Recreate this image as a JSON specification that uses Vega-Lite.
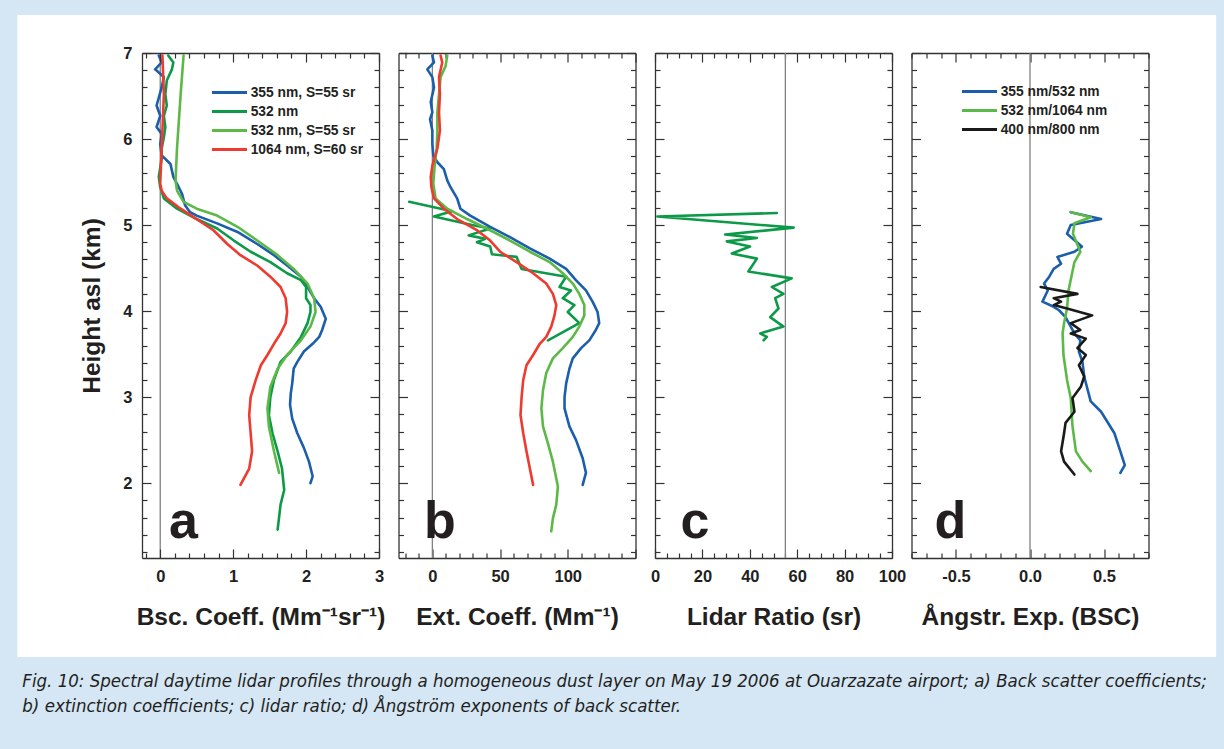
{
"$schema": "https://vega.github.io/schema/vega-lite/v6.json",
"background": "#d5e6f5",
"padding": {"left": 17, "top": 14, "right": 8, "bottom": 40},
"bounds": "flush",
"spacing": 19.5,
"title": {
  "text": ["Fig. 10: Spectral daytime lidar profiles through a homogeneous dust layer on May 19 2006 at Ouarzazate airport; a) Back scatter coefficients;", "b) extinction coefficients; c) lidar ratio; d) Ångström exponents of back scatter."],
  "orient": "bottom", "anchor": "start", "frame": "bounds", "offset": 15, "dx": 5,
  "font": "DejaVu Sans Condensed", "fontStyle": "italic", "fontWeight": "normal", "fontSize": 18.5, "lineHeight": 25, "color": "#231f20"
},
"datasets": {
  "bsc": [
    {"s":"355 nm, S=55 sr","v":-0.02,"h":6.97},{"s":"355 nm, S=55 sr","v":0.02,"h":6.89},{"s":"355 nm, S=55 sr","v":-0.07,"h":6.81},{"s":"355 nm, S=55 sr","v":0.05,"h":6.72},{"s":"355 nm, S=55 sr","v":0.02,"h":6.6},{"s":"355 nm, S=55 sr","v":-0.05,"h":6.39},{"s":"355 nm, S=55 sr","v":0.0,"h":6.27},{"s":"355 nm, S=55 sr","v":-0.05,"h":6.14},{"s":"355 nm, S=55 sr","v":0.02,"h":6.06},{"s":"355 nm, S=55 sr","v":0.0,"h":5.94},{"s":"355 nm, S=55 sr","v":0.02,"h":5.81},{"s":"355 nm, S=55 sr","v":0.14,"h":5.71},{"s":"355 nm, S=55 sr","v":0.18,"h":5.56},{"s":"355 nm, S=55 sr","v":0.23,"h":5.48},{"s":"355 nm, S=55 sr","v":0.3,"h":5.36},{"s":"355 nm, S=55 sr","v":0.34,"h":5.23},{"s":"355 nm, S=55 sr","v":0.41,"h":5.15},{"s":"355 nm, S=55 sr","v":0.5,"h":5.11},{"s":"355 nm, S=55 sr","v":0.78,"h":5.02},{"s":"355 nm, S=55 sr","v":1.06,"h":4.92},{"s":"355 nm, S=55 sr","v":1.33,"h":4.78},{"s":"355 nm, S=55 sr","v":1.56,"h":4.65},{"s":"355 nm, S=55 sr","v":1.74,"h":4.53},{"s":"355 nm, S=55 sr","v":1.93,"h":4.4},{"s":"355 nm, S=55 sr","v":2.02,"h":4.28},{"s":"355 nm, S=55 sr","v":2.11,"h":4.15},{"s":"355 nm, S=55 sr","v":2.2,"h":4.05},{"s":"355 nm, S=55 sr","v":2.27,"h":3.91},{"s":"355 nm, S=55 sr","v":2.22,"h":3.78},{"s":"355 nm, S=55 sr","v":2.18,"h":3.7},{"s":"355 nm, S=55 sr","v":2.09,"h":3.62},{"s":"355 nm, S=55 sr","v":1.97,"h":3.53},{"s":"355 nm, S=55 sr","v":1.88,"h":3.41},{"s":"355 nm, S=55 sr","v":1.83,"h":3.33},{"s":"355 nm, S=55 sr","v":1.81,"h":3.16},{"s":"355 nm, S=55 sr","v":1.79,"h":3.04},{"s":"355 nm, S=55 sr","v":1.78,"h":2.91},{"s":"355 nm, S=55 sr","v":1.81,"h":2.75},{"s":"355 nm, S=55 sr","v":1.88,"h":2.58},{"s":"355 nm, S=55 sr","v":1.97,"h":2.41},{"s":"355 nm, S=55 sr","v":2.04,"h":2.25},{"s":"355 nm, S=55 sr","v":2.09,"h":2.08},{"s":"355 nm, S=55 sr","v":2.06,"h":2.0},
    {"s":"532 nm","v":0.11,"h":6.97},{"s":"532 nm","v":0.18,"h":6.89},{"s":"532 nm","v":0.16,"h":6.81},{"s":"532 nm","v":0.09,"h":6.68},{"s":"532 nm","v":0.07,"h":6.52},{"s":"532 nm","v":0.09,"h":6.39},{"s":"532 nm","v":0.05,"h":6.27},{"s":"532 nm","v":0.07,"h":6.14},{"s":"532 nm","v":0.05,"h":6.02},{"s":"532 nm","v":0.02,"h":5.89},{"s":"532 nm","v":0.02,"h":5.77},{"s":"532 nm","v":-0.02,"h":5.56},{"s":"532 nm","v":0.0,"h":5.44},{"s":"532 nm","v":0.05,"h":5.31},{"s":"532 nm","v":0.23,"h":5.19},{"s":"532 nm","v":0.5,"h":5.07},{"s":"532 nm","v":0.78,"h":4.96},{"s":"532 nm","v":1.01,"h":4.82},{"s":"532 nm","v":1.24,"h":4.69},{"s":"532 nm","v":1.51,"h":4.57},{"s":"532 nm","v":1.74,"h":4.44},{"s":"532 nm","v":1.93,"h":4.36},{"s":"532 nm","v":2.0,"h":4.28},{"s":"532 nm","v":2.0,"h":4.15},{"s":"532 nm","v":2.06,"h":4.07},{"s":"532 nm","v":2.06,"h":3.99},{"s":"532 nm","v":2.02,"h":3.86},{"s":"532 nm","v":1.93,"h":3.7},{"s":"532 nm","v":1.79,"h":3.53},{"s":"532 nm","v":1.65,"h":3.41},{"s":"532 nm","v":1.56,"h":3.2},{"s":"532 nm","v":1.51,"h":3.0},{"s":"532 nm","v":1.49,"h":2.79},{"s":"532 nm","v":1.54,"h":2.58},{"s":"532 nm","v":1.61,"h":2.37},{"s":"532 nm","v":1.67,"h":2.17},{"s":"532 nm","v":1.7,"h":1.92},{"s":"532 nm","v":1.65,"h":1.75},{"s":"532 nm","v":1.61,"h":1.46},
    {"s":"532 nm, S=55 sr","v":0.32,"h":6.97},{"s":"532 nm, S=55 sr","v":0.28,"h":6.52},{"s":"532 nm, S=55 sr","v":0.23,"h":5.89},{"s":"532 nm, S=55 sr","v":0.21,"h":5.52},{"s":"532 nm, S=55 sr","v":0.23,"h":5.4},{"s":"532 nm, S=55 sr","v":0.32,"h":5.27},{"s":"532 nm, S=55 sr","v":0.5,"h":5.19},{"s":"532 nm, S=55 sr","v":0.78,"h":5.11},{"s":"532 nm, S=55 sr","v":1.06,"h":4.98},{"s":"532 nm, S=55 sr","v":1.33,"h":4.82},{"s":"532 nm, S=55 sr","v":1.61,"h":4.65},{"s":"532 nm, S=55 sr","v":1.83,"h":4.49},{"s":"532 nm, S=55 sr","v":2.02,"h":4.32},{"s":"532 nm, S=55 sr","v":2.11,"h":4.15},{"s":"532 nm, S=55 sr","v":2.13,"h":3.99},{"s":"532 nm, S=55 sr","v":2.06,"h":3.82},{"s":"532 nm, S=55 sr","v":1.93,"h":3.66},{"s":"532 nm, S=55 sr","v":1.74,"h":3.49},{"s":"532 nm, S=55 sr","v":1.61,"h":3.33},{"s":"532 nm, S=55 sr","v":1.51,"h":3.12},{"s":"532 nm, S=55 sr","v":1.47,"h":2.87},{"s":"532 nm, S=55 sr","v":1.49,"h":2.66},{"s":"532 nm, S=55 sr","v":1.56,"h":2.37},{"s":"532 nm, S=55 sr","v":1.63,"h":2.12},
    {"s":"1064 nm, S=60 sr","v":0.03,"h":6.97},{"s":"1064 nm, S=60 sr","v":0.05,"h":6.52},{"s":"1064 nm, S=60 sr","v":0.02,"h":5.89},{"s":"1064 nm, S=60 sr","v":0.0,"h":5.48},{"s":"1064 nm, S=60 sr","v":0.02,"h":5.4},{"s":"1064 nm, S=60 sr","v":0.09,"h":5.31},{"s":"1064 nm, S=60 sr","v":0.28,"h":5.19},{"s":"1064 nm, S=60 sr","v":0.5,"h":5.07},{"s":"1064 nm, S=60 sr","v":0.73,"h":4.94},{"s":"1064 nm, S=60 sr","v":0.92,"h":4.78},{"s":"1064 nm, S=60 sr","v":1.1,"h":4.65},{"s":"1064 nm, S=60 sr","v":1.33,"h":4.53},{"s":"1064 nm, S=60 sr","v":1.51,"h":4.4},{"s":"1064 nm, S=60 sr","v":1.65,"h":4.28},{"s":"1064 nm, S=60 sr","v":1.72,"h":4.15},{"s":"1064 nm, S=60 sr","v":1.74,"h":3.99},{"s":"1064 nm, S=60 sr","v":1.72,"h":3.86},{"s":"1064 nm, S=60 sr","v":1.65,"h":3.74},{"s":"1064 nm, S=60 sr","v":1.56,"h":3.62},{"s":"1064 nm, S=60 sr","v":1.47,"h":3.49},{"s":"1064 nm, S=60 sr","v":1.38,"h":3.37},{"s":"1064 nm, S=60 sr","v":1.31,"h":3.2},{"s":"1064 nm, S=60 sr","v":1.24,"h":3.0},{"s":"1064 nm, S=60 sr","v":1.22,"h":2.79},{"s":"1064 nm, S=60 sr","v":1.24,"h":2.58},{"s":"1064 nm, S=60 sr","v":1.26,"h":2.37},{"s":"1064 nm, S=60 sr","v":1.22,"h":2.17},{"s":"1064 nm, S=60 sr","v":1.1,"h":1.98}
  ],
  "ext": [
    {"s":"355 nm, S=55 sr","v":0,"h":6.97},{"s":"355 nm, S=55 sr","v":1.2,"h":6.89},{"s":"355 nm, S=55 sr","v":-3.7,"h":6.81},{"s":"355 nm, S=55 sr","v":0,"h":6.72},{"s":"355 nm, S=55 sr","v":1.2,"h":6.6},{"s":"355 nm, S=55 sr","v":-1.2,"h":6.43},{"s":"355 nm, S=55 sr","v":0,"h":6.31},{"s":"355 nm, S=55 sr","v":-1.7,"h":6.23},{"s":"355 nm, S=55 sr","v":0,"h":6.1},{"s":"355 nm, S=55 sr","v":0,"h":5.94},{"s":"355 nm, S=55 sr","v":0.7,"h":5.81},{"s":"355 nm, S=55 sr","v":3.7,"h":5.73},{"s":"355 nm, S=55 sr","v":8.5,"h":5.65},{"s":"355 nm, S=55 sr","v":11,"h":5.52},{"s":"355 nm, S=55 sr","v":13.4,"h":5.44},{"s":"355 nm, S=55 sr","v":18.3,"h":5.31},{"s":"355 nm, S=55 sr","v":20.7,"h":5.19},{"s":"355 nm, S=55 sr","v":28,"h":5.11},{"s":"355 nm, S=55 sr","v":42.7,"h":4.98},{"s":"355 nm, S=55 sr","v":57.3,"h":4.86},{"s":"355 nm, S=55 sr","v":72,"h":4.73},{"s":"355 nm, S=55 sr","v":86.6,"h":4.61},{"s":"355 nm, S=55 sr","v":98.8,"h":4.49},{"s":"355 nm, S=55 sr","v":106,"h":4.36},{"s":"355 nm, S=55 sr","v":113.4,"h":4.24},{"s":"355 nm, S=55 sr","v":118.3,"h":4.11},{"s":"355 nm, S=55 sr","v":122,"h":3.99},{"s":"355 nm, S=55 sr","v":123.2,"h":3.86},{"s":"355 nm, S=55 sr","v":120.7,"h":3.78},{"s":"355 nm, S=55 sr","v":115.9,"h":3.66},{"s":"355 nm, S=55 sr","v":109.8,"h":3.57},{"s":"355 nm, S=55 sr","v":103.7,"h":3.45},{"s":"355 nm, S=55 sr","v":101.2,"h":3.33},{"s":"355 nm, S=55 sr","v":98.8,"h":3.16},{"s":"355 nm, S=55 sr","v":97.6,"h":3.0},{"s":"355 nm, S=55 sr","v":97.6,"h":2.87},{"s":"355 nm, S=55 sr","v":101.2,"h":2.66},{"s":"355 nm, S=55 sr","v":106.1,"h":2.5},{"s":"355 nm, S=55 sr","v":111,"h":2.29},{"s":"355 nm, S=55 sr","v":113.4,"h":2.12},{"s":"355 nm, S=55 sr","v":111,"h":1.98},
    {"s":"532 nm","v":-17.1,"h":5.27},{"s":"532 nm","v":14.6,"h":5.16},{"s":"532 nm","v":1.2,"h":5.1},{"s":"532 nm","v":29.3,"h":5.0},{"s":"532 nm","v":42.7,"h":4.96},{"s":"532 nm","v":26.8,"h":4.88},{"s":"532 nm","v":39,"h":4.84},{"s":"532 nm","v":32.9,"h":4.8},{"s":"532 nm","v":42.7,"h":4.75},{"s":"532 nm","v":44,"h":4.66},{"s":"532 nm","v":62.2,"h":4.63},{"s":"532 nm","v":65.9,"h":4.49},{"s":"532 nm","v":98.8,"h":4.4},{"s":"532 nm","v":93.9,"h":4.28},{"s":"532 nm","v":102.4,"h":4.24},{"s":"532 nm","v":96.3,"h":4.15},{"s":"532 nm","v":104.9,"h":4.07},{"s":"532 nm","v":100,"h":3.99},{"s":"532 nm","v":108.5,"h":3.86},{"s":"532 nm","v":85.4,"h":3.66},
    {"s":"532 nm, S=55 sr","v":11,"h":6.97},{"s":"532 nm, S=55 sr","v":9.8,"h":6.85},{"s":"532 nm, S=55 sr","v":6.1,"h":6.72},{"s":"532 nm, S=55 sr","v":4.9,"h":6.52},{"s":"532 nm, S=55 sr","v":3.7,"h":6.31},{"s":"532 nm, S=55 sr","v":3.7,"h":6.1},{"s":"532 nm, S=55 sr","v":3.2,"h":5.89},{"s":"532 nm, S=55 sr","v":1.7,"h":5.69},{"s":"532 nm, S=55 sr","v":0.7,"h":5.48},{"s":"532 nm, S=55 sr","v":2.4,"h":5.31},{"s":"532 nm, S=55 sr","v":11,"h":5.19},{"s":"532 nm, S=55 sr","v":25.6,"h":5.07},{"s":"532 nm, S=55 sr","v":42.7,"h":4.94},{"s":"532 nm, S=55 sr","v":57.3,"h":4.82},{"s":"532 nm, S=55 sr","v":72,"h":4.69},{"s":"532 nm, S=55 sr","v":86.6,"h":4.57},{"s":"532 nm, S=55 sr","v":96.3,"h":4.44},{"s":"532 nm, S=55 sr","v":103.7,"h":4.32},{"s":"532 nm, S=55 sr","v":108.5,"h":4.2},{"s":"532 nm, S=55 sr","v":112.2,"h":4.07},{"s":"532 nm, S=55 sr","v":112.2,"h":3.95},{"s":"532 nm, S=55 sr","v":108.5,"h":3.82},{"s":"532 nm, S=55 sr","v":103.7,"h":3.7},{"s":"532 nm, S=55 sr","v":96.3,"h":3.57},{"s":"532 nm, S=55 sr","v":89,"h":3.45},{"s":"532 nm, S=55 sr","v":84.1,"h":3.28},{"s":"532 nm, S=55 sr","v":81.7,"h":3.08},{"s":"532 nm, S=55 sr","v":80.5,"h":2.87},{"s":"532 nm, S=55 sr","v":81.7,"h":2.66},{"s":"532 nm, S=55 sr","v":85.4,"h":2.46},{"s":"532 nm, S=55 sr","v":89,"h":2.25},{"s":"532 nm, S=55 sr","v":92.7,"h":1.96},{"s":"532 nm, S=55 sr","v":91.5,"h":1.75},{"s":"532 nm, S=55 sr","v":89,"h":1.59},{"s":"532 nm, S=55 sr","v":87.8,"h":1.44},
    {"s":"1064 nm, S=60 sr","v":6.1,"h":6.97},{"s":"1064 nm, S=60 sr","v":7.3,"h":6.89},{"s":"1064 nm, S=60 sr","v":4.9,"h":6.72},{"s":"1064 nm, S=60 sr","v":5.6,"h":6.52},{"s":"1064 nm, S=60 sr","v":4.9,"h":6.31},{"s":"1064 nm, S=60 sr","v":5.6,"h":6.1},{"s":"1064 nm, S=60 sr","v":3.7,"h":5.89},{"s":"1064 nm, S=60 sr","v":0,"h":5.69},{"s":"1064 nm, S=60 sr","v":-1.2,"h":5.56},{"s":"1064 nm, S=60 sr","v":-0.7,"h":5.44},{"s":"1064 nm, S=60 sr","v":1.2,"h":5.31},{"s":"1064 nm, S=60 sr","v":8.5,"h":5.19},{"s":"1064 nm, S=60 sr","v":18.3,"h":5.07},{"s":"1064 nm, S=60 sr","v":32.9,"h":4.94},{"s":"1064 nm, S=60 sr","v":42.7,"h":4.82},{"s":"1064 nm, S=60 sr","v":50,"h":4.69},{"s":"1064 nm, S=60 sr","v":62.2,"h":4.57},{"s":"1064 nm, S=60 sr","v":74.4,"h":4.44},{"s":"1064 nm, S=60 sr","v":84.1,"h":4.32},{"s":"1064 nm, S=60 sr","v":89,"h":4.2},{"s":"1064 nm, S=60 sr","v":91.5,"h":4.07},{"s":"1064 nm, S=60 sr","v":90.2,"h":3.95},{"s":"1064 nm, S=60 sr","v":87.8,"h":3.82},{"s":"1064 nm, S=60 sr","v":84.1,"h":3.7},{"s":"1064 nm, S=60 sr","v":79.3,"h":3.62},{"s":"1064 nm, S=60 sr","v":74.4,"h":3.49},{"s":"1064 nm, S=60 sr","v":69.5,"h":3.37},{"s":"1064 nm, S=60 sr","v":67.1,"h":3.2},{"s":"1064 nm, S=60 sr","v":65.9,"h":3.0},{"s":"1064 nm, S=60 sr","v":65.1,"h":2.79},{"s":"1064 nm, S=60 sr","v":67.1,"h":2.58},{"s":"1064 nm, S=60 sr","v":69.5,"h":2.37},{"s":"1064 nm, S=60 sr","v":72,"h":2.17},{"s":"1064 nm, S=60 sr","v":74.4,"h":1.98}
  ],
  "lr": [
    {"v":51.4,"h":5.14},{"v":1.0,"h":5.1},{"v":58.5,"h":4.97},{"v":29.6,"h":4.89},{"v":43,"h":4.85},{"v":30.3,"h":4.81},{"v":40.1,"h":4.75},{"v":32.4,"h":4.67},{"v":43,"h":4.61},{"v":39.4,"h":4.46},{"v":57.7,"h":4.38},{"v":49.3,"h":4.28},{"v":54.2,"h":4.2},{"v":50.7,"h":4.15},{"v":52.1,"h":4.03},{"v":48.6,"h":3.93},{"v":54.2,"h":3.82},{"v":44.4,"h":3.74},{"v":47.2,"h":3.7},{"v":45.8,"h":3.66}
  ],
  "ang": [
    {"s":"355 nm/532 nm","v":0.275,"h":5.15},{"s":"355 nm/532 nm","v":0.48,"h":5.07},{"s":"355 nm/532 nm","v":0.275,"h":5.0},{"s":"355 nm/532 nm","v":0.25,"h":4.9},{"s":"355 nm/532 nm","v":0.35,"h":4.75},{"s":"355 nm/532 nm","v":0.3,"h":4.69},{"s":"355 nm/532 nm","v":0.185,"h":4.63},{"s":"355 nm/532 nm","v":0.21,"h":4.55},{"s":"355 nm/532 nm","v":0.16,"h":4.49},{"s":"355 nm/532 nm","v":0.13,"h":4.4},{"s":"355 nm/532 nm","v":0.095,"h":4.32},{"s":"355 nm/532 nm","v":0.12,"h":4.24},{"s":"355 nm/532 nm","v":0.084,"h":4.11},{"s":"355 nm/532 nm","v":0.16,"h":4.05},{"s":"355 nm/532 nm","v":0.196,"h":4.01},{"s":"355 nm/532 nm","v":0.24,"h":3.93},{"s":"355 nm/532 nm","v":0.275,"h":3.82},{"s":"355 nm/532 nm","v":0.3,"h":3.74},{"s":"355 nm/532 nm","v":0.34,"h":3.66},{"s":"355 nm/532 nm","v":0.33,"h":3.53},{"s":"355 nm/532 nm","v":0.354,"h":3.41},{"s":"355 nm/532 nm","v":0.366,"h":3.24},{"s":"355 nm/532 nm","v":0.39,"h":3.08},{"s":"355 nm/532 nm","v":0.41,"h":2.95},{"s":"355 nm/532 nm","v":0.48,"h":2.83},{"s":"355 nm/532 nm","v":0.57,"h":2.58},{"s":"355 nm/532 nm","v":0.61,"h":2.37},{"s":"355 nm/532 nm","v":0.64,"h":2.21},{"s":"355 nm/532 nm","v":0.61,"h":2.12},
    {"s":"532 nm/1064 nm","v":0.275,"h":5.15},{"s":"532 nm/1064 nm","v":0.41,"h":5.09},{"s":"532 nm/1064 nm","v":0.3,"h":5.02},{"s":"532 nm/1064 nm","v":0.29,"h":4.9},{"s":"532 nm/1064 nm","v":0.34,"h":4.69},{"s":"532 nm/1064 nm","v":0.3,"h":4.57},{"s":"532 nm/1064 nm","v":0.26,"h":4.24},{"s":"532 nm/1064 nm","v":0.25,"h":4.03},{"s":"532 nm/1064 nm","v":0.23,"h":3.86},{"s":"532 nm/1064 nm","v":0.22,"h":3.74},{"s":"532 nm/1064 nm","v":0.226,"h":3.49},{"s":"532 nm/1064 nm","v":0.25,"h":3.2},{"s":"532 nm/1064 nm","v":0.275,"h":2.99},{"s":"532 nm/1064 nm","v":0.287,"h":2.66},{"s":"532 nm/1064 nm","v":0.31,"h":2.37},{"s":"532 nm/1064 nm","v":0.354,"h":2.25},{"s":"532 nm/1064 nm","v":0.41,"h":2.14},
    {"s":"400 nm/800 nm","v":0.072,"h":4.28},{"s":"400 nm/800 nm","v":0.32,"h":4.2},{"s":"400 nm/800 nm","v":0.16,"h":4.15},{"s":"400 nm/800 nm","v":0.21,"h":4.11},{"s":"400 nm/800 nm","v":0.16,"h":4.07},{"s":"400 nm/800 nm","v":0.25,"h":4.03},{"s":"400 nm/800 nm","v":0.42,"h":3.95},{"s":"400 nm/800 nm","v":0.275,"h":3.86},{"s":"400 nm/800 nm","v":0.34,"h":3.78},{"s":"400 nm/800 nm","v":0.275,"h":3.74},{"s":"400 nm/800 nm","v":0.377,"h":3.68},{"s":"400 nm/800 nm","v":0.32,"h":3.57},{"s":"400 nm/800 nm","v":0.377,"h":3.49},{"s":"400 nm/800 nm","v":0.33,"h":3.37},{"s":"400 nm/800 nm","v":0.366,"h":3.24},{"s":"400 nm/800 nm","v":0.343,"h":3.12},{"s":"400 nm/800 nm","v":0.287,"h":2.99},{"s":"400 nm/800 nm","v":0.3,"h":2.83},{"s":"400 nm/800 nm","v":0.24,"h":2.7},{"s":"400 nm/800 nm","v":0.23,"h":2.58},{"s":"400 nm/800 nm","v":0.21,"h":2.37},{"s":"400 nm/800 nm","v":0.23,"h":2.25},{"s":"400 nm/800 nm","v":0.3,"h":2.1}
  ]
},
"hconcat": [
  {
    "width": 237, "height": 505,
    "layer": [
      {
        "data": {"values": [{}]},
        "mark": {"type": "rect", "fill": "#ffffff", "zindex": 0},
        "encoding": {
          "x": {"datum": -1.96, "type": "quantitative", "scale": {"domain": [-0.25, 3], "nice": false, "zero": false}, "axis": null},
          "x2": {"datum": 14.48},
          "y": {"datum": 7.442, "type": "quantitative", "scale": {"domain": [1.13, 7.0], "nice": false, "zero": false}, "axis": null},
          "y2": {"datum": -0.021}
        }
      },
      {
        "data": {"values": [{}]},
        "mark": {"type": "rule", "color": "#808080", "strokeWidth": 1.3, "zindex": 1},
        "encoding": {
          "x": {"datum": 0, "type": "quantitative", "scale": {"domain": [-0.25, 3], "nice": false, "zero": false},
                "axis": {"orient": "top", "zindex": 2, "values": [-0.2,0,0.2,0.4,0.6,0.8,1,1.2,1.4,1.6,1.8,2,2.2,2.4,2.6,2.8,3], "labels": false, "title": null,
                         "tickSize": {"condition": {"test": "datum.value % 1 === 0", "value": -9}, "value": -5}}}
        }
      },
      {
        "data": {"name": "bsc"},
        "mark": {"type": "line", "strokeWidth": 2.6, "strokeJoin": "round", "strokeCap": "round", "zindex": 1},
        "encoding": {
          "x": {"field": "v", "type": "quantitative", "scale": {"domain": [-0.25, 3], "nice": false, "zero": false},
                "axis": {"orient": "bottom", "zindex": 2, "values": [-0.2,0,0.2,0.4,0.6,0.8,1,1.2,1.4,1.6,1.8,2,2.2,2.4,2.6,2.8,3],
                         "labelExpr": "datum.value % 1 === 0 ? '' + datum.value : ''", "title": "Bsc. Coeff. (Mm⁻¹sr⁻¹)",
                         "tickSize": {"condition": {"test": "datum.value % 1 === 0", "value": -9}, "value": -5}}},
          "y": {"field": "h", "type": "quantitative", "scale": {"domain": [1.13, 7.0], "nice": false, "zero": false},
                "axis": {"orient": "left", "zindex": 2, "values": [1.2,1.4,1.6,1.8,2,2.2,2.4,2.6,2.8,3,3.2,3.4,3.6,3.8,4,4.2,4.4,4.6,4.8,5,5.2,5.4,5.6,5.8,6,6.2,6.4,6.6,6.8,7],
                         "labelExpr": "datum.value % 1 === 0 ? '' + datum.value : ''", "title": "Height asl (km)", "labelPadding": 19, "titlePadding": 18,
                         "tickSize": {"condition": {"test": "datum.value % 1 === 0", "value": -9}, "value": -5}}},
          "color": {"field": "s", "type": "nominal",
                    "scale": {"domain": ["355 nm, S=55 sr", "532 nm", "532 nm, S=55 sr", "1064 nm, S=60 sr"], "range": ["#1b5eab", "#0d9a48", "#5cb947", "#ee3a2f"]},
                    "legend": {"orient": "none", "legendX": 80, "legendY": 32, "zindex": 2}},
          "order": {"value": null}
        }
      },
      {
        "data": {"values": [{"t": "a"}]},
        "mark": {"type": "text", "font": "Liberation Sans", "fontWeight": "bold", "fontSize": 52, "align": "center", "baseline": "alphabetic", "color": "#231f20", "zindex": 1},
        "encoding": {
          "text": {"field": "t"},
          "x": {"datum": 0.32, "type": "quantitative", "scale": {"domain": [-0.25, 3], "nice": false, "zero": false}, "axis": null},
          "y": {"datum": 1.36, "type": "quantitative", "scale": {"domain": [1.13, 7.0], "nice": false, "zero": false},
                "axis": {"orient": "right", "zindex": 2, "values": [1.2,1.4,1.6,1.8,2,2.2,2.4,2.6,2.8,3,3.2,3.4,3.6,3.8,4,4.2,4.4,4.6,4.8,5,5.2,5.4,5.6,5.8,6,6.2,6.4,6.6,6.8,7], "labels": false, "title": null,
                         "tickSize": {"condition": {"test": "datum.value % 1 === 0", "value": -9}, "value": -5}}}
        }
      }
    ],
    "resolve": {"axis": {"x": "independent", "y": "independent"}}
  },
  {
    "width": 237, "height": 505,
    "layer": [
      {
        "data": {"values": [{}]},
        "mark": {"type": "rule", "color": "#808080", "strokeWidth": 1.3},
        "encoding": {
          "x": {"datum": 0, "type": "quantitative", "scale": {"domain": [-25, 150], "nice": false, "zero": false},
                "axis": {"orient": "top", "values": [-20,-10,0,10,20,30,40,50,60,70,80,90,100,110,120,130,140,150], "labels": false, "title": null,
                         "tickSize": {"condition": {"test": "datum.value % 50 === 0", "value": -9}, "value": -5}}}
        }
      },
      {
        "data": {"name": "ext"},
        "mark": {"type": "line", "strokeWidth": 2.6, "strokeJoin": "round", "strokeCap": "round"},
        "encoding": {
          "x": {"field": "v", "type": "quantitative", "scale": {"domain": [-25, 150], "nice": false, "zero": false},
                "axis": {"orient": "bottom", "values": [-20,-10,0,10,20,30,40,50,60,70,80,90,100,110,120,130,140,150],
                         "labelExpr": "datum.value === 0 || datum.value === 50 || datum.value === 100 ? '' + datum.value : ''", "title": "Ext. Coeff. (Mm⁻¹)",
                         "tickSize": {"condition": {"test": "datum.value % 50 === 0", "value": -9}, "value": -5}}},
          "y": {"field": "h", "type": "quantitative", "scale": {"domain": [1.13, 7.0], "nice": false, "zero": false},
                "axis": {"orient": "left", "values": [1.2,1.4,1.6,1.8,2,2.2,2.4,2.6,2.8,3,3.2,3.4,3.6,3.8,4,4.2,4.4,4.6,4.8,5,5.2,5.4,5.6,5.8,6,6.2,6.4,6.6,6.8,7], "labels": false, "title": null,
                         "tickSize": {"condition": {"test": "datum.value % 1 === 0", "value": -9}, "value": -5}}},
          "color": {"field": "s", "type": "nominal",
                    "scale": {"domain": ["355 nm, S=55 sr", "532 nm", "532 nm, S=55 sr", "1064 nm, S=60 sr"], "range": ["#1b5eab", "#0d9a48", "#5cb947", "#ee3a2f"]},
                    "legend": null},
          "order": {"value": null}
        }
      },
      {
        "data": {"values": [{"t": "b"}]},
        "mark": {"type": "text", "font": "Liberation Sans", "fontWeight": "bold", "fontSize": 52, "align": "center", "baseline": "alphabetic", "color": "#231f20"},
        "encoding": {
          "text": {"field": "t"},
          "x": {"datum": 5.6, "type": "quantitative", "scale": {"domain": [-25, 150], "nice": false, "zero": false}, "axis": null},
          "y": {"datum": 1.36, "type": "quantitative", "scale": {"domain": [1.13, 7.0], "nice": false, "zero": false},
                "axis": {"orient": "right", "values": [1.2,1.4,1.6,1.8,2,2.2,2.4,2.6,2.8,3,3.2,3.4,3.6,3.8,4,4.2,4.4,4.6,4.8,5,5.2,5.4,5.6,5.8,6,6.2,6.4,6.6,6.8,7], "labels": false, "title": null,
                         "tickSize": {"condition": {"test": "datum.value % 1 === 0", "value": -9}, "value": -5}}}
        }
      }
    ],
    "resolve": {"axis": {"x": "independent", "y": "independent"}}
  },
  {
    "width": 237, "height": 505,
    "layer": [
      {
        "data": {"values": [{}]},
        "mark": {"type": "rule", "color": "#808080", "strokeWidth": 1.3},
        "encoding": {
          "x": {"datum": 55, "type": "quantitative", "scale": {"domain": [0, 100], "nice": false, "zero": false},
                "axis": {"orient": "top", "values": [0,5,10,15,20,25,30,35,40,45,50,55,60,65,70,75,80,85,90,95,100], "labels": false, "title": null,
                         "tickSize": {"condition": {"test": "datum.value % 20 === 0", "value": -9}, "value": -5}}}
        }
      },
      {
        "data": {"name": "lr"},
        "mark": {"type": "line", "strokeWidth": 2.6, "strokeJoin": "round", "strokeCap": "round", "color": "#0d9a48"},
        "encoding": {
          "x": {"field": "v", "type": "quantitative", "scale": {"domain": [0, 100], "nice": false, "zero": false},
                "axis": {"orient": "bottom", "values": [0,5,10,15,20,25,30,35,40,45,50,55,60,65,70,75,80,85,90,95,100],
                         "labelExpr": "datum.value % 20 === 0 ? '' + datum.value : ''", "title": "Lidar Ratio (sr)",
                         "tickSize": {"condition": {"test": "datum.value % 20 === 0", "value": -9}, "value": -5}}},
          "y": {"field": "h", "type": "quantitative", "scale": {"domain": [1.13, 7.0], "nice": false, "zero": false},
                "axis": {"orient": "left", "values": [1.2,1.4,1.6,1.8,2,2.2,2.4,2.6,2.8,3,3.2,3.4,3.6,3.8,4,4.2,4.4,4.6,4.8,5,5.2,5.4,5.6,5.8,6,6.2,6.4,6.6,6.8,7], "labels": false, "title": null,
                         "tickSize": {"condition": {"test": "datum.value % 1 === 0", "value": -9}, "value": -5}}},
          "order": {"value": null}
        }
      },
      {
        "data": {"values": [{"t": "c"}]},
        "mark": {"type": "text", "font": "Liberation Sans", "fontWeight": "bold", "fontSize": 52, "align": "center", "baseline": "alphabetic", "color": "#231f20"},
        "encoding": {
          "text": {"field": "t"},
          "x": {"datum": 16.9, "type": "quantitative", "scale": {"domain": [0, 100], "nice": false, "zero": false}, "axis": null},
          "y": {"datum": 1.36, "type": "quantitative", "scale": {"domain": [1.13, 7.0], "nice": false, "zero": false},
                "axis": {"orient": "right", "values": [1.2,1.4,1.6,1.8,2,2.2,2.4,2.6,2.8,3,3.2,3.4,3.6,3.8,4,4.2,4.4,4.6,4.8,5,5.2,5.4,5.6,5.8,6,6.2,6.4,6.6,6.8,7], "labels": false, "title": null,
                         "tickSize": {"condition": {"test": "datum.value % 1 === 0", "value": -9}, "value": -5}}}
        }
      }
    ],
    "resolve": {"axis": {"x": "independent", "y": "independent"}}
  },
  {
    "width": 237, "height": 505,
    "layer": [
      {
        "data": {"values": [{}]},
        "mark": {"type": "rule", "color": "#808080", "strokeWidth": 1.3},
        "encoding": {
          "x": {"datum": 0, "type": "quantitative", "scale": {"domain": [-0.8, 0.8], "nice": false, "zero": false},
                "axis": {"orient": "top", "values": [-0.8,-0.7,-0.6,-0.5,-0.4,-0.3,-0.2,-0.1,0,0.1,0.2,0.3,0.4,0.5,0.6,0.7,0.8], "labels": false, "title": null,
                         "tickSize": {"condition": {"test": "abs(datum.value * 10) % 5 === 0", "value": -9}, "value": -5}}}
        }
      },
      {
        "data": {"name": "ang"},
        "mark": {"type": "line", "strokeWidth": 2.6, "strokeJoin": "round", "strokeCap": "round"},
        "encoding": {
          "x": {"field": "v", "type": "quantitative", "scale": {"domain": [-0.8, 0.8], "nice": false, "zero": false},
                "axis": {"orient": "bottom", "values": [-0.8,-0.7,-0.6,-0.5,-0.4,-0.3,-0.2,-0.1,0,0.1,0.2,0.3,0.4,0.5,0.6,0.7,0.8],
                         "labelExpr": "datum.value === -0.5 ? '-0.5' : datum.value === 0 ? '0.0' : datum.value === 0.5 ? '0.5' : ''", "title": "Ångstr. Exp. (BSC)",
                         "tickSize": {"condition": {"test": "abs(datum.value * 10) % 5 === 0", "value": -9}, "value": -5}}},
          "y": {"field": "h", "type": "quantitative", "scale": {"domain": [1.13, 7.0], "nice": false, "zero": false},
                "axis": {"orient": "left", "values": [1.2,1.4,1.6,1.8,2,2.2,2.4,2.6,2.8,3,3.2,3.4,3.6,3.8,4,4.2,4.4,4.6,4.8,5,5.2,5.4,5.6,5.8,6,6.2,6.4,6.6,6.8,7], "labels": false, "title": null,
                         "tickSize": {"condition": {"test": "datum.value % 1 === 0", "value": -9}, "value": -5}}},
          "color": {"field": "s", "type": "nominal",
                    "scale": {"domain": ["355 nm/532 nm", "532 nm/1064 nm", "400 nm/800 nm"], "range": ["#1b5eab", "#5cb947", "#1a1a1a"]},
                    "legend": {"orient": "none", "legendX": 60.5, "legendY": 31, "zindex": 2}},
          "order": {"value": null}
        }
      },
      {
        "data": {"values": [{"t": "d"}]},
        "mark": {"type": "text", "font": "Liberation Sans", "fontWeight": "bold", "fontSize": 52, "align": "center", "baseline": "alphabetic", "color": "#231f20"},
        "encoding": {
          "text": {"field": "t"},
          "x": {"datum": -0.537, "type": "quantitative", "scale": {"domain": [-0.8, 0.8], "nice": false, "zero": false}, "axis": null},
          "y": {"datum": 1.36, "type": "quantitative", "scale": {"domain": [1.13, 7.0], "nice": false, "zero": false},
                "axis": {"orient": "right", "values": [1.2,1.4,1.6,1.8,2,2.2,2.4,2.6,2.8,3,3.2,3.4,3.6,3.8,4,4.2,4.4,4.6,4.8,5,5.2,5.4,5.6,5.8,6,6.2,6.4,6.6,6.8,7], "labels": false, "title": null,
                         "tickSize": {"condition": {"test": "datum.value % 1 === 0", "value": -9}, "value": -5}}}
        }
      }
    ],
    "resolve": {"axis": {"x": "independent", "y": "independent"}}
  }
],
"resolve": {"scale": {"color": "independent"}, "legend": {"color": "independent"}},
"config": {
  "view": {"stroke": null},
  "axis": {
    "zindex": 1, "grid": false,
    "domainColor": "#333333", "domainWidth": 1.3,
    "tickColor": "#333333", "tickWidth": 1.2,
    "labelFont": "Liberation Sans", "labelFontWeight": "bold", "labelFontSize": 16.5, "labelColor": "#231f20",
    "labelPadding": 19, "labelFlush": false, "labelOverlap": false, "labelBound": false,
    "titleFont": "Liberation Sans", "titleFontWeight": "bold", "titleFontSize": 24.5, "titleColor": "#231f20", "titlePadding": 17
  },
  "legend": {
    "title": null, "padding": 0,
    "symbolType": "M-3,0H3", "symbolSize": 136, "symbolStrokeWidth": 3,
    "labelFont": "Liberation Sans", "labelFontWeight": "bold", "labelFontSize": 13.8, "labelColor": "#231f20",
    "labelOffset": 13.7, "rowPadding": 4
  }
}
}
